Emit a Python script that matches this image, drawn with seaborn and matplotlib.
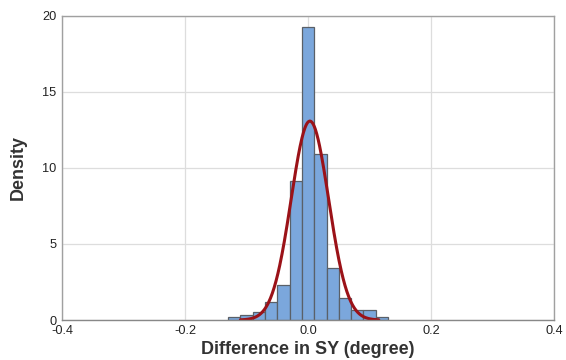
import numpy as np
import pandas as pd
import matplotlib
matplotlib.use('Agg')
import matplotlib.pyplot as plt
import seaborn as sns

# Histograma (densidad), bins de ancho 0.02 centrados en 0
bin_edges = [-0.13, -0.11, -0.09, -0.07, -0.05, -0.03, -0.01,
             0.01, 0.03, 0.05, 0.07, 0.09, 0.11, 0.13]
bin_centers = [-0.12, -0.10, -0.08, -0.06, -0.04, -0.02, 0.0,
               0.02, 0.04, 0.06, 0.08, 0.10, 0.12]
densidad = [0.18, 0.35, 0.5, 1.16, 2.3, 9.12, 19.25,
            10.94, 3.44, 1.47, 0.66, 0.66, 0.18]

# Ajuste normal
media = 0.003
desvio = 0.0305
curva_min, curva_max = -0.11, 0.115

x_ticks = [-0.4, -0.2, 0.0, 0.2, 0.4]
y_ticks = [0, 5, 10, 15, 20]

sns.set_style('whitegrid')
plt.rcParams['font.family'] = ['Liberation Sans', 'DejaVu Sans']

fig = plt.figure(figsize=(5.66, 3.6), dpi=100)
ax = fig.add_axes([0.1095, 0.111, 0.8695, 0.845])

hist = pd.DataFrame({'x': bin_centers, 'dens': densidad})
sns.histplot(data=hist, x='x', weights='dens', bins=bin_edges, ax=ax,
             color='#7BA7DC', alpha=1, edgecolor='#5a6068', linewidth=0.9)

xs = np.linspace(curva_min, curva_max, 300)
ys = np.exp(-0.5 * ((xs - media) / desvio) ** 2) / (desvio * np.sqrt(2 * np.pi))
sns.lineplot(x=xs, y=ys, ax=ax, color='#9B1218', linewidth=2.2)

ax.set_xlim(-0.4, 0.4)
ax.set_ylim(0, 20)
ax.set_xticks(x_ticks)
ax.set_yticks(y_ticks)
ax.set_xticklabels(['-0.4', '-0.2', '0.0', '0.2', '0.4'])
ax.tick_params(labelsize=9.2, labelcolor='#222222', length=4, width=0.8,
               pad=0, color='#999999')
ax.tick_params(axis='x', pad=0.5, length=3)
ax.grid(True, color='#dddddd', linewidth=0.9)
for s in ax.spines.values():
    s.set_color('#a0a0a0')
    s.set_linewidth(1.0)
ax.spines['bottom'].set_color('#888888')

ax.set_xlabel('Difference in SY (degree)', fontsize=13, fontweight='bold',
              color='#333333', labelpad=3)
ax.set_ylabel('Density', fontsize=13, fontweight='bold', color='#333333',
              labelpad=11)

fig.savefig('out.png', dpi=100)
